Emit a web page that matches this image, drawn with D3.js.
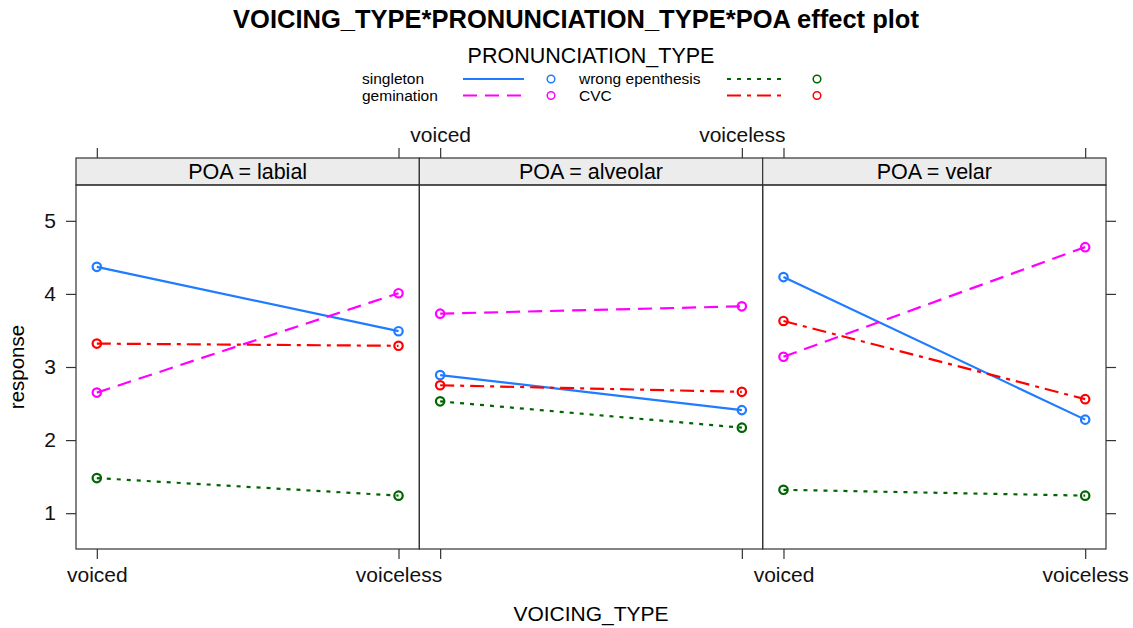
<!DOCTYPE html>
<html><head><meta charset="utf-8">
<script src="https://cdn.jsdelivr.net/npm/d3@7"></script>
<style>body{margin:0;background:#fff}svg{display:block;font-family:"Liberation Sans",Arial,sans-serif}</style>
</head><body><svg id="c" width="1133" height="628"></svg>
<script>
const voicing = ["voiced", "voiceless"];
const poas = ["labial", "alveolar", "velar"];
const pronTypes = ["singleton", "gemination", "wrong epenthesis", "CVC"];
const yTicks = [1, 2, 3, 4, 5];
// values per POA: [voiced, voiceless]
const singleton = {labial: [4.37, 3.49], alveolar: [2.89, 2.41], velar: [4.23, 2.28]};
const gemination = {labial: [2.65, 4.01], alveolar: [3.73, 3.83], velar: [3.14, 4.64]};
const wrongEpenthesis = {labial: [1.48, 1.24], alveolar: [2.53, 2.17], velar: [1.32, 1.24]};
const cvc = {labial: [3.32, 3.29], alveolar: [2.75, 2.66], velar: [3.63, 2.56]};
const seriesData = [singleton, gemination, wrongEpenthesis, cvc];

const colors = ["#1f7bff", "#ff00ff", "#006400", "#ff0000"];
const dashes = [null, "14,8", "4,6", "14,6,4,6"];

const svg = d3.select("#c");
const L = 76, R = 1106, T = 185, B = 549, stripTop = 158;
const pw = (R - L) / poas.length;
const y = d3.scaleLinear().domain([0.51, 5.49]).range([B, T]);
const xPanel = d3.scaleBand().domain(poas).range([L, R]).padding(0);
const x = d3.scalePoint().domain(voicing).range([0, pw]).padding(0.069);
const ink = "#333";
const axFont = 21;

// title
svg.append("text").attr("x", 576).attr("y", 28).attr("text-anchor", "middle")
  .attr("font-weight", "bold").attr("font-size", 25.5).text("VOICING_TYPE*PRONUNCIATION_TYPE*POA effect plot");
svg.append("text").attr("x", 591).attr("y", 63).attr("text-anchor", "middle")
  .attr("font-size", 21.5).text("PRONUNCIATION_TYPE");

// legend
const legPos = [[362, 79, 101, 162, 189], [362, 95.5, 101, 162, 189], [579, 79, 148, 208, 238], [579, 95.5, 148, 208, 238]];
pronTypes.forEach((p, i) => {
  const [lx, ly, l1, l2, cx] = legPos[i];
  const g = svg.append("g");
  g.append("text").attr("x", lx).attr("y", ly).attr("dy", "0.35em").attr("font-size", 15.5).text(p);
  g.append("line").attr("x1", lx + l1).attr("x2", lx + l2).attr("y1", ly).attr("y2", ly)
    .attr("stroke", colors[i]).attr("stroke-width", 2).attr("stroke-dasharray", dashes[i]);
  g.append("circle").attr("cx", lx + cx).attr("cy", ly).attr("r", 3.8)
    .attr("fill", "none").attr("stroke", colors[i]).attr("stroke-width", 1.5);
});

poas.forEach((poa, pi) => {
  const px = xPanel(poa);
  const g = svg.append("g").attr("transform", `translate(${px},0)`);
  // strip
  g.append("rect").attr("x", 0).attr("y", stripTop).attr("width", pw).attr("height", T - stripTop)
    .attr("fill", "#ececec").attr("stroke", ink).attr("stroke-width", 1.2);
  g.append("text").attr("x", pw / 2).attr("y", (stripTop + T) / 2).attr("dy", "0.35em")
    .attr("text-anchor", "middle").attr("font-size", 21.5).text("POA = " + poa);
  // panel
  g.append("rect").attr("x", 0).attr("y", T).attr("width", pw).attr("height", B - T)
    .attr("fill", "none").attr("stroke", ink).attr("stroke-width", 1.2);
  // bottom axis
  const bAx = d3.axisBottom(x).tickSize(10).tickPadding(8)
    .tickFormat(pi === 1 ? "" : d => d);
  const bg = g.append("g").attr("transform", `translate(0,${B})`).call(bAx);
  // top axis
  const tAx = d3.axisTop(x).tickSize(10).tickPadding(6)
    .tickFormat(pi === 1 ? d => d : "");
  const tg = g.append("g").attr("transform", `translate(0,${stripTop})`).call(tAx);
  [bg, tg].forEach(a => {
    a.select(".domain").remove();
    a.selectAll("line").attr("stroke", ink).attr("stroke-width", 1.2);
    a.selectAll("text").attr("font-size", axFont).attr("fill", "#111")
      .attr("font-family", "Liberation Sans, Arial, sans-serif");
  });
  // series
  seriesData.forEach((s, si) => {
    const vals = s[poa];
    const pts = voicing.map((v, k) => [x(v), y(vals[k])]);
    g.append("path").attr("d", d3.line()(pts)).attr("fill", "none")
      .attr("stroke", colors[si]).attr("stroke-width", 2.2).attr("stroke-dasharray", dashes[si]);
    g.selectAll(null).data(pts).enter().append("circle")
      .attr("cx", d => d[0]).attr("cy", d => d[1]).attr("r", 4.2)
      .attr("fill", "none").attr("stroke", colors[si]).attr("stroke-width", 2.2);
  });
});

// y axes
const la = svg.append("g").attr("transform", `translate(${L},0)`)
  .call(d3.axisLeft(y).tickValues(yTicks).tickSize(10).tickPadding(10).tickFormat(d3.format("d")));
const ra = svg.append("g").attr("transform", `translate(${R},0)`)
  .call(d3.axisRight(y).tickValues(yTicks).tickSize(10).tickFormat(""));
[la, ra].forEach(a => {
  a.select(".domain").remove();
  a.selectAll("line").attr("stroke", ink).attr("stroke-width", 1.2);
  a.selectAll("text").attr("font-size", axFont).attr("fill", "#111")
    .attr("font-family", "Liberation Sans, Arial, sans-serif");
});

svg.append("text").attr("transform", `translate(24,${(T + B) / 2}) rotate(-90)`)
  .attr("text-anchor", "middle").attr("font-size", 20.5).text("response");
svg.append("text").attr("x", (L + R) / 2).attr("y", 621).attr("text-anchor", "middle")
  .attr("font-size", 21).text("VOICING_TYPE");
</script></body></html>
